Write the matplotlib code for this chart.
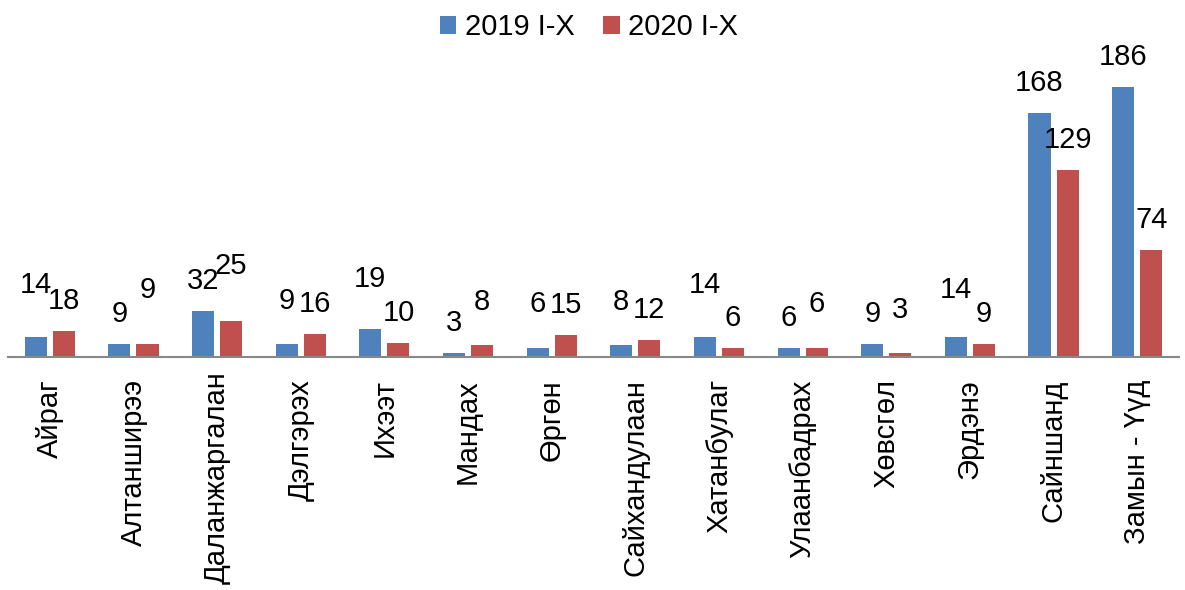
import matplotlib.pyplot as plt
import matplotlib.transforms as mtransforms
import numpy as np

plt.rcParams['font.family'] = ['Liberation Sans', 'DejaVu Sans']

categories = ["Айраг", "Алтанширээ", "Даланжаргалан", "Дэлгэрэх", "Ихээт", "Мандах",
              "Өргөн", "Сайхандулаан", "Хатанбулаг", "Улаанбадрах", "Хөвсгөл",
              "Эрдэнэ", "Сайншанд", "Замын - Үүд"]
values_2019 = [14, 9, 32, 9, 19, 3, 6, 8, 14, 6, 9, 14, 168, 186]
values_2020 = [18, 9, 25, 16, 10, 8, 15, 12, 6, 6, 3, 9, 129, 74]
series_names = ["2019 I-X", "2020 I-X"]

# extra lift (points) for labels that were moved up by hand in the original
lift_2019 = [16, 0, 0, 9, 15, 0, 10, 10, 16, 0, 0, 12, 0, 0]
lift_2020 = [0, 17, 18, 0, 0, 10, 0, 0, 0, 10, 9, 0, 0, 0]

blue = "#4F81BD"
red = "#C0504D"
fs = 21

fig = plt.figure(figsize=(11.85, 5.9), dpi=100)
ax = fig.add_axes([8 / 1185, 233 / 590, 1171 / 1185, 290 / 590])

x = np.arange(len(categories))
w = 0.264
off = 0.168
b1 = ax.bar(x - off, values_2019, w, color=blue, label=series_names[0])
b2 = ax.bar(x + off, values_2020, w, color=red, label=series_names[1])

for bars, vals, lifts in [(b1, values_2019, lift_2019), (b2, values_2020, lift_2020)]:
    for bar, v, lf in zip(bars, vals, lifts):
        ax.annotate(str(v), (bar.get_x() + bar.get_width() / 2, v),
                    xytext=(0, 11.5 + lf), textcoords="offset points",
                    ha="center", va="bottom", fontsize=fs, clip_on=False)

ax.set_xlim(-0.5, len(categories) - 0.5)
ax.set_ylim(0, 200)
ax.set_xticks(x)
ax.set_xticklabels(categories, rotation=90, fontsize=fs)
ax.tick_params(axis="x", length=0, pad=16)
# the longest label sits a bit higher so it fits, like in the original
lbl = ax.get_xticklabels()[2]
lbl.set_transform(lbl.get_transform() + mtransforms.ScaledTranslation(0, 6 / 72, fig.dpi_scale_trans))
ax.set_yticks([])
for s in ["top", "right", "left"]:
    ax.spines[s].set_visible(False)
ax.spines["bottom"].set_color("#888888")
ax.spines["bottom"].set_linewidth(1.5)

fig.legend(loc="upper center", bbox_to_anchor=(0.497, 1.022), ncol=2, frameon=False,
           fontsize=fs, handlelength=0.55, handleheight=0.55, handletextpad=0.3,
           columnspacing=1.0)

fig.savefig("out.png", dpi=100)
